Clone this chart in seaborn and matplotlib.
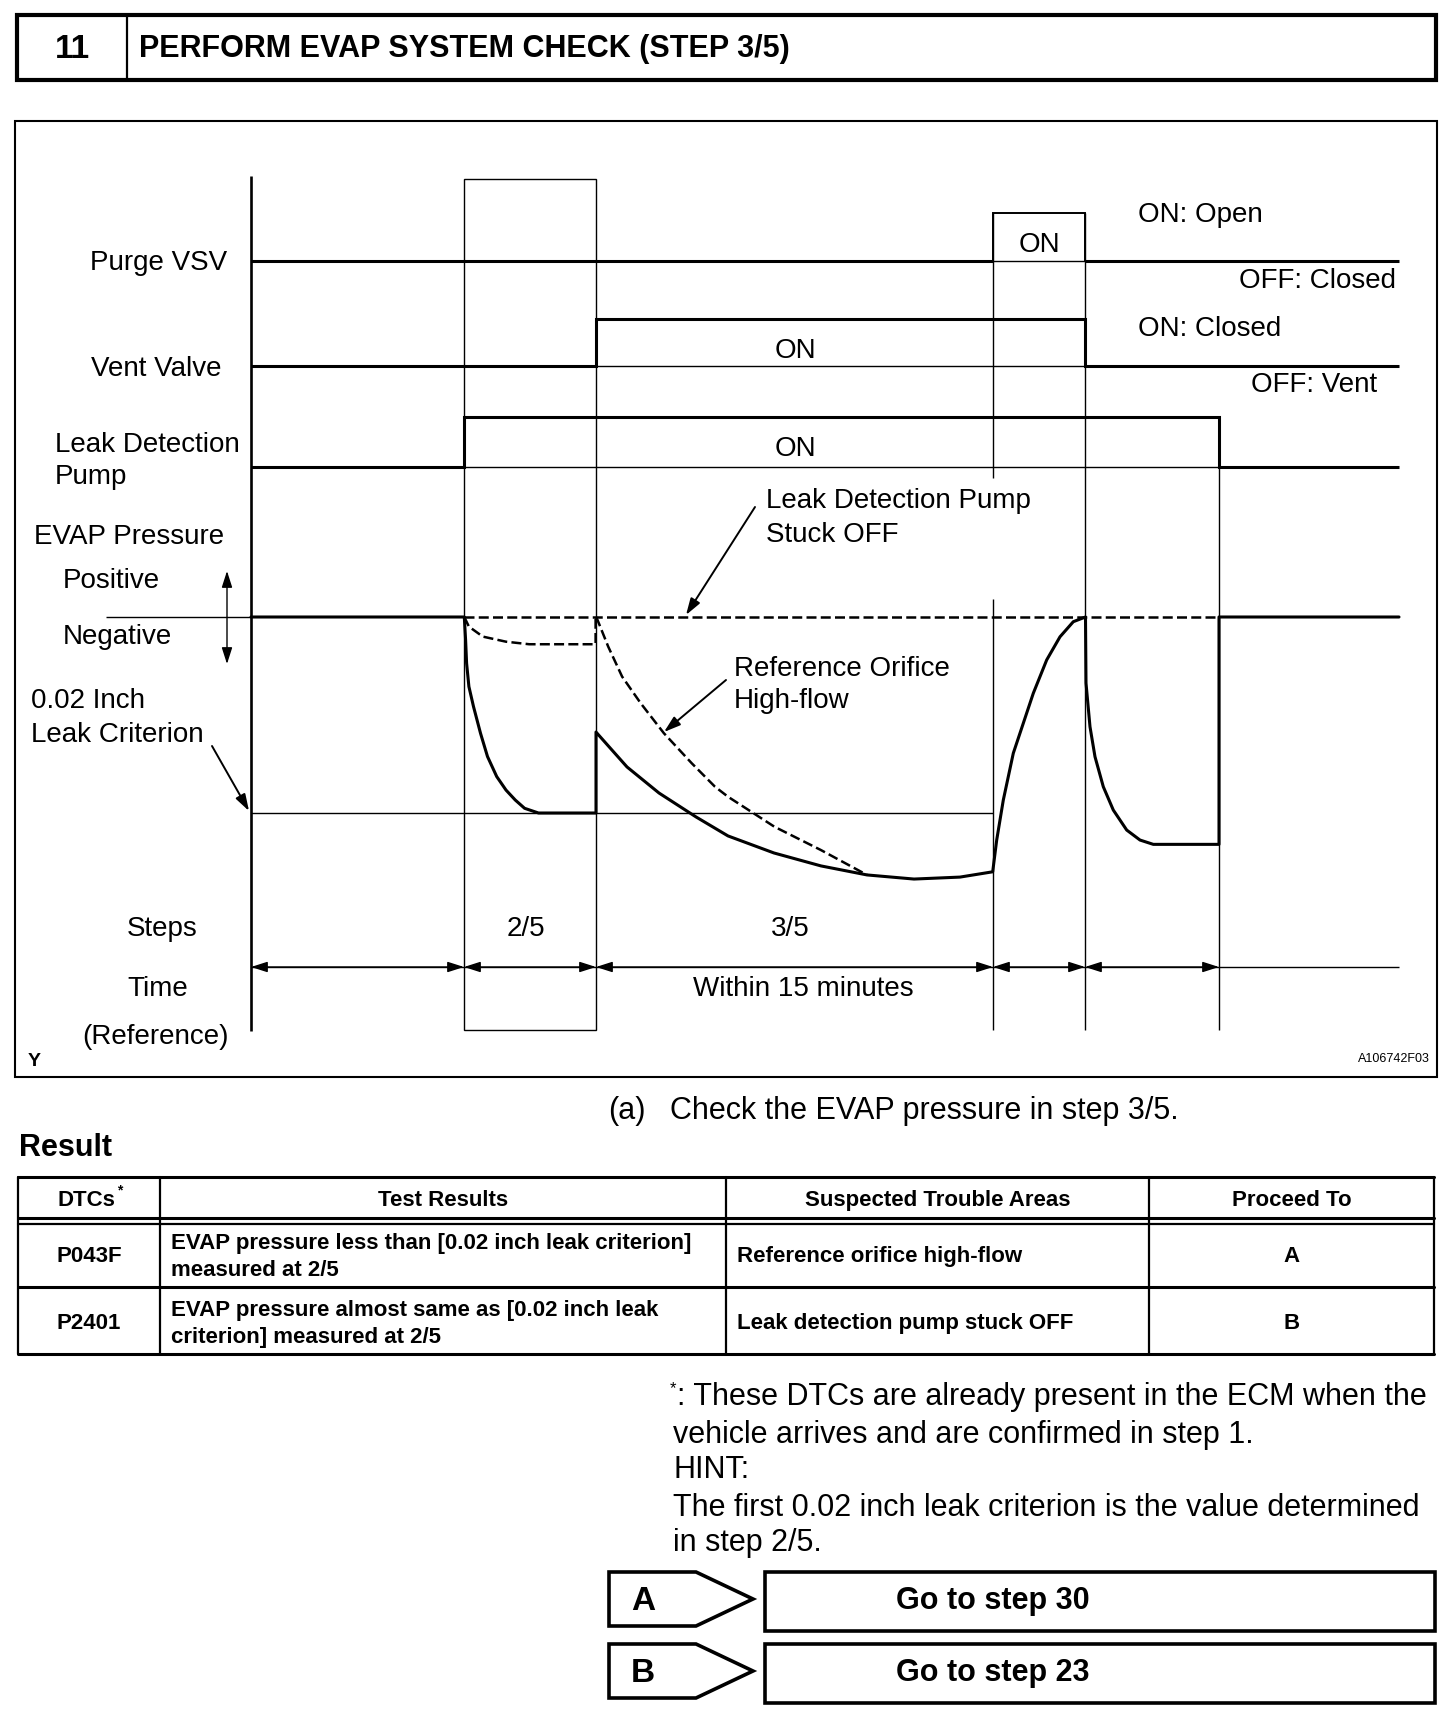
import matplotlib
matplotlib.use("Agg")
import matplotlib.pyplot as plt
from matplotlib.patches import Polygon, Rectangle, FancyArrowPatch
import pandas as pd
import seaborn as sns

# ---- timing data (time in arbitrary units, 0 = left edge of the chart) ----
phase_edges = [0, 21.3, 34.5, 74.2, 83.4, 96.8, 114.8]
step_names = ["", "2/5", "3/5", "", "", ""]
purge_vsv = [0, 0, 0, 1, 0, 0]
vent_valve = [0, 0, 1, 1, 0, 0]
leak_pump = [0, 1, 1, 1, 1, 0]

# EVAP pressure: 0 = atmospheric, -1 = 0.02 inch leak criterion
normal_t = [0, 21.33, 21.46, 21.56, 21.79, 22.25, 22.95, 23.65, 24.57, 25.5, 26.43,
            27.36, 28.75, 34.5, 34.5, 36.1, 37.6, 40.8, 44.5, 47.7, 52.3, 57.0, 61.6,
            66.3, 70.9, 74.17, 74.57, 75.23, 76.23, 77.23, 78.23, 79.57, 80.9, 82.23,
            83.45, 83.5, 83.9, 84.4, 85.23, 86.23, 87.57, 88.9, 90.23,
            96.8, 96.8, 114.8]
normal_p = [0, 0, -0.117, -0.236, -0.355, -0.457, -0.593, -0.712, -0.814, -0.883, -0.934,
            -0.976, -1.0, -1.0, -0.587, -0.679, -0.765, -0.898, -1.02, -1.117, -1.204,
            -1.27, -1.316, -1.337, -1.327, -1.30, -1.138, -0.934, -0.695, -0.542, -0.389,
            -0.219, -0.101, -0.024, 0, -0.337, -0.56, -0.713, -0.866, -0.985, -1.087,
            -1.138, -1.16, -1.16, 0, 0]
orifice25_t = [21.33, 21.79, 23.18, 25.5, 27.82, 34.46, 34.46]
orifice25_p = [0, -0.049, -0.100, -0.126, -0.139, -0.139, 0]
orifice35_t = [34.5, 34.65, 35.72, 37.11, 38.97, 41.29, 44.07, 46.4, 47.7, 52.34, 56.99, 61.6]
orifice35_p = [0, -0.015, -0.151, -0.304, -0.44, -0.593, -0.746, -0.866, -0.917, -1.07,
               -1.189, -1.316]
stuck_t = [21.3, 96.8]
criterion = -1.0

# ---- result table ----
table_header = ["DTCs", "Test Results", "Suspected Trouble Areas", "Proceed To"]
dtc_codes = ["P043F", "P2401"]
test_results = [["EVAP pressure less than [0.02 inch leak criterion]", "measured at 2/5"],
                ["EVAP pressure almost same as [0.02 inch leak", "criterion] measured at 2/5"]]
trouble_areas = ["Reference orifice high-flow", "Leak detection pump stuck OFF"]
proceed_to = ["A", "B"]
next_steps = ["Go to step 30", "Go to step 23"]

sns.set_theme(style="white")
plt.rcParams['font.family'] = ['Liberation Sans', 'DejaVu Sans']

W, H = 1456, 1720
fig = plt.figure(figsize=(W / 100, H / 100), dpi=100)
page = fig.add_axes([0, 0, 1, 1])
page.set_xlim(0, W)
page.set_ylim(H, 0)
page.axis("off")

K = "black"
THICK, MID, THIN = 2.2, 1.6, 1.0


def txt(x, y, s, size=20, ha="left", weight="normal", va="center"):
    page.text(x, y + 2.5, s, fontsize=size, ha=ha, va=va, weight=weight, color=K)


def box(x0, y0, x1, y1, lw):
    page.add_patch(Rectangle((x0, y0), x1 - x0, y1 - y0, fill=False, lw=lw, ec=K))


# header
box(17, 15, 1436, 80, 3.0)
page.plot([127, 127], [15, 80], color=K, lw=MID)
txt(72, 47, "11", size=24, ha="center", weight="bold")
txt(139, 47, "PERFORM EVAP SYSTEM CHECK (STEP 3/5)", size=22, weight="bold")

# diagram frame
box(15, 121, 1437, 1077, 1.5)

# diagram axes: x = time units, y = pressure units (page px mapped linearly)
X0, XS, Y0, YS = 251, 10.0, 617, 196.0


def ty(ypx):
    return -(ypx - Y0) / YS


def tx(xpx):
    return (xpx - X0) / XS


ax = fig.add_axes([15 / W, 1 - 1077 / H, (1437 - 15) / W, (1077 - 121) / H])
ax.set_xlim(tx(15), tx(1437))
ax.set_ylim(ty(1077), ty(121))
ax.axis("off")
ax.patch.set_alpha(0)

# signal rows (baseline px, ON px); purge pulse outline is drawn thinner
rows = [(purge_vsv, 261, 213, 1.4), (vent_valve, 366, 319, THICK), (leak_pump, 467, 417, THICK)]
for states, base, high, lw in rows:
    vals = [ty(base) + s * (ty(high) - ty(base)) for s in states]
    ax.stairs(vals, phase_edges, baseline=None, color=K, lw=lw)
ax.hlines([ty(261), ty(261)], [phase_edges[0], phase_edges[4]],
          [phase_edges[3], phase_edges[6]], color=K, lw=THICK)
ax.hlines(ty(261), phase_edges[3], phase_edges[4], color=K, lw=THIN)
ax.hlines(ty(366), phase_edges[2], phase_edges[4], color=K, lw=THIN)
ax.hlines(ty(467), phase_edges[1], phase_edges[5], color=K, lw=THIN)

# vertical guides
ax.vlines(phase_edges[0], ty(1031), ty(176), color=K, lw=1.9)
ax.add_patch(Rectangle((phase_edges[1], ty(1030)), phase_edges[2] - phase_edges[1],
                       ty(179) - ty(1030), fill=False, lw=THIN, ec=K))
ax.vlines(phase_edges[3], ty(478), ty(213), color=K, lw=THIN)
ax.vlines(phase_edges[3], ty(1030), ty(599), color=K, lw=THIN)
ax.vlines(phase_edges[4], ty(1030), ty(213), color=K, lw=THIN)
ax.vlines(phase_edges[5], ty(1030), ty(417), color=K, lw=THIN)

# pressure
ax.hlines(0, tx(106), 0, color=K, lw=THIN)
ax.hlines(criterion, 0, phase_edges[3], color=K, lw=THIN)
dash = (0, (4, 1.7))
sns.lineplot(x=normal_t, y=normal_p, ax=ax, color=K, lw=THICK, sort=False, estimator=None)
sns.lineplot(x=orifice25_t, y=orifice25_p, ax=ax, color=K, lw=1.8, sort=False,
             estimator=None, linestyle=dash)
sns.lineplot(x=orifice35_t, y=orifice35_p, ax=ax, color=K, lw=1.8, sort=False,
             estimator=None, linestyle=dash)
ax.plot(stuck_t, [0, 0], color=K, lw=1.8, linestyle=dash)
ax.set_xlim(tx(15), tx(1437))
ax.set_ylim(ty(1077), ty(121))


def arrow(ax_, p0, p1, style="-|>", lw=1.1):
    ax_.add_patch(FancyArrowPatch(p0, p1, arrowstyle=f"{style},head_length=10,head_width=3.2",
                                  mutation_scale=1, lw=lw, color=K, shrinkA=0, shrinkB=0))


# time row
ty_row = ty(967)
ax.hlines(ty_row, 0, phase_edges[-1], color=K, lw=THIN)
for a, b in zip(phase_edges[:5], phase_edges[1:6]):
    arrow(ax, (a, ty_row), (b, ty_row), style="<|-|>", lw=THIN)

# positive / negative double arrow
arrow(ax, (tx(227), ty(571)), (tx(227), ty(664)), style="<|-|>", lw=THIN)

# pointers
arrow(page, (212, 746), (249, 811), lw=1.4)
arrow(page, (755, 507), (686, 615), lw=1.4)
arrow(page, (726, 680), (664, 732), lw=1.4)

# diagram texts
txt(90, 261, "Purge VSV")
txt(91, 366, "Vent Valve")
txt(55, 442, "Leak Detection")
txt(55, 475, "Pump")
txt(34, 535, "EVAP Pressure")
txt(63, 579, "Positive")
txt(63, 634, "Negative")
txt(31, 699, "0.02 Inch")
txt(31, 733, "Leak Criterion")
txt(162, 926, "Steps", ha="center")
txt(158, 987, "Time", ha="center")
txt(155, 1035, "(Reference)", ha="center")
txt(28, 1059, "Y", size=14, weight="bold")
txt(1430, 1057, "A106742F03", size=9, ha="right")

txt(1138, 213, "ON: Open")
txt(1396, 278, "OFF: Closed", ha="right")
txt(1138, 326, "ON: Closed")
txt(1377, 383, "OFF: Vent", ha="right")
txt(1039, 243, "ON", ha="center")
txt(795, 348, "ON", ha="center")
txt(795, 446, "ON", ha="center")
txt(766, 499, "Leak Detection Pump")
txt(766, 533, "Stuck OFF")
txt(734, 667, "Reference Orifice")
txt(734, 699, "High-flow")
for a, b, name in zip(phase_edges[:-1], phase_edges[1:], step_names):
    if name:
        txt(X0 + XS * (a + b) / 2 - 4, 926, name, ha="center")
txt(803, 987, "Within 15 minutes", ha="center")

# instruction
txt(608, 1108, "(a)", size=22)
txt(670, 1108, "Check the EVAP pressure in step 3/5.", size=22)
txt(19, 1145, "Result", size=22, weight="bold")

# table
col_x = [17.6, 160, 726, 1149, 1434]
for y in [1177, 1218, 1287, 1354]:
    page.plot([col_x[0], col_x[-1]], [y, y], color=K, lw=THICK)
page.plot([col_x[0], col_x[-1]], [1223.5, 1223.5], color=K, lw=MID)
for x in col_x:
    page.plot([x, x], [1177, 1354], color=K, lw=MID)
TS = 16
hy = 1198
txt(86, hy, table_header[0], size=TS, ha="center", weight="bold")
txt(120, 1188, "*", size=10, ha="center", weight="bold")
for i in range(1, 4):
    txt((col_x[i] + col_x[i + 1]) / 2, hy, table_header[i], size=TS, ha="center", weight="bold")
row_mid = [1254, 1321]
for i in range(2):
    ym = row_mid[i]
    txt(89, ym, dtc_codes[i], size=TS, ha="center", weight="bold")
    txt(171, ym - 13, test_results[i][0], size=TS, weight="bold")
    txt(171, ym + 14, test_results[i][1], size=TS, weight="bold")
    txt(737, ym, trouble_areas[i], size=TS, weight="bold")
    txt(1291.5, ym, proceed_to[i], size=TS, ha="center", weight="bold")

# footnote / hint
txt(670, 1386, "*", size=12)
txt(677, 1395, ": These DTCs are already present in the ECM when the", size=22)
txt(673, 1432, "vehicle arrives and are confirmed in step 1.", size=22)
txt(673, 1468, "HINT:", size=22)
txt(673, 1505, "The first 0.02 inch leak criterion is the value determined", size=22)
txt(673, 1541, "in step 2/5.", size=22)

# proceed buttons
btn_top = [1572, 1644]
for i in range(2):
    t0 = btn_top[i]
    b0 = t0 + 54
    page.add_patch(Polygon([(609, t0), (696, t0), (753, (t0 + b0) / 2), (696, b0), (609, b0)],
                           closed=True, fill=False, lw=2.6, ec=K, joinstyle="miter"))
    box(765, t0, 1435, t0 + 59, 2.6)
    txt(631, (t0 + b0) / 2, proceed_to[i], size=24, weight="bold")
    txt(896, (t0 + b0) / 2, next_steps[i], size=22, weight="bold")

fig.savefig("out.png", dpi=100)
